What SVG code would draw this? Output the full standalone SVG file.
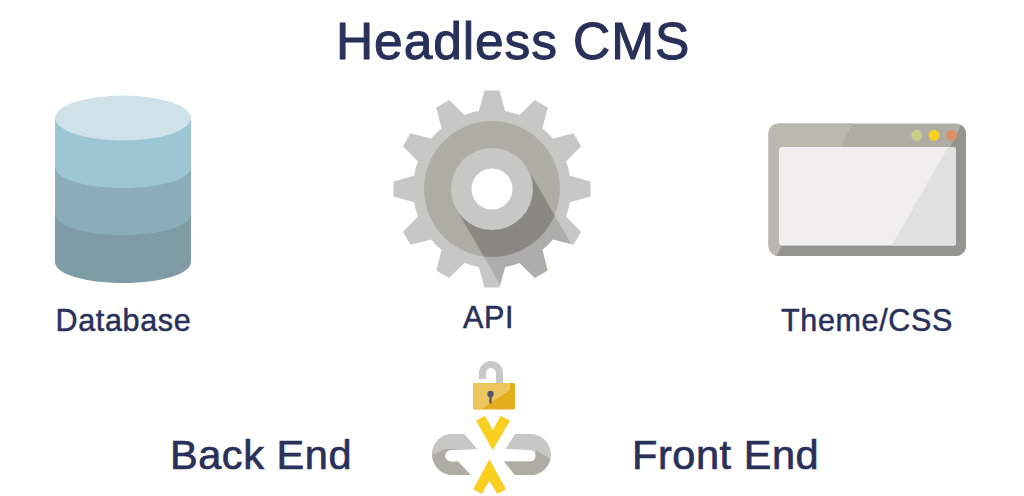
<svg xmlns="http://www.w3.org/2000/svg" width="1024" height="496" viewBox="0 0 1024 496">
<style>
text{font-family:"Liberation Sans",Arial,sans-serif;fill:#29305a;stroke:#29305a}
.t{font-size:51.500px;letter-spacing:.9px;stroke-width:1px}
.l{font-size:30.500px;letter-spacing:.65px;stroke-width:.5px}
.b{font-size:41.500px;letter-spacing:.55px;stroke-width:.7px}
.g{fill:#c7c8c3}.d{fill:#aeada5}.y{fill:#fbcf1f}
</style>
<defs>
<clipPath id="gearClip">
<circle cx="492" cy="189" r="79"/>
<polygon points="484.500,90.500 499.500,90.500 506,114 478,114"/>
<polygon points="484.500,90.500 499.500,90.500 506,114 478,114" transform="rotate(30 492 189)"/>
<polygon points="484.500,90.500 499.500,90.500 506,114 478,114" transform="rotate(60 492 189)"/>
<polygon points="484.500,90.500 499.500,90.500 506,114 478,114" transform="rotate(90 492 189)"/>
<polygon points="484.500,90.500 499.500,90.500 506,114 478,114" transform="rotate(120 492 189)"/>
<polygon points="484.500,90.500 499.500,90.500 506,114 478,114" transform="rotate(150 492 189)"/>
<polygon points="484.500,90.500 499.500,90.500 506,114 478,114" transform="rotate(180 492 189)"/>
<polygon points="484.500,90.500 499.500,90.500 506,114 478,114" transform="rotate(210 492 189)"/>
<polygon points="484.500,90.500 499.500,90.500 506,114 478,114" transform="rotate(240 492 189)"/>
<polygon points="484.500,90.500 499.500,90.500 506,114 478,114" transform="rotate(270 492 189)"/>
<polygon points="484.500,90.500 499.500,90.500 506,114 478,114" transform="rotate(300 492 189)"/>
<polygon points="484.500,90.500 499.500,90.500 506,114 478,114" transform="rotate(330 492 189)"/>
</clipPath>
<clipPath id="discClip"><circle cx="492" cy="189" r="68"/></clipPath>
<clipPath id="lockClip"><rect x="473" y="383" width="42" height="26.500" rx="2"/></clipPath>
<clipPath id="winClip"><rect x="768.500" y="123.500" width="197.500" height="132.500" rx="10"/></clipPath>
<clipPath id="leftLink"><path d="M464 434H452.500A20.500 20.500 0 0 0 452.500 475H471L458 461.500H451A5.750 5.750 0 0 1 451 450L477 449Z"/></clipPath>
<clipPath id="rightLink"><path d="M515 434H530.500A20.500 20.500 0 0 1 530.500 475H515L504 461.500H530A5.750 5.750 0 0 0 530 450L505.500 449Z"/></clipPath>
</defs>

<text class="t" x="336" y="58.500">Headless CMS</text>

<g id="database">
<path d="M55 118V262C55 274 85 283 123 283S191 274 191 262V118Z" fill="#7f9ba6"/>
<path d="M55 118V214C55 226 85 235 123 235S191 226 191 214V118Z" fill="#8badb9"/>
<path d="M55 118V167C55 179 85 188 123 188S191 179 191 167V118Z" fill="#9dc6d4"/>
<ellipse cx="123" cy="118" rx="68" ry="22.500" fill="#cfe2e9"/>
<text class="l" x="55.500" y="331">Database</text>
</g>

<g id="api">
<g class="g" clip-path="url(#gearClip)"><rect x="390" y="88" width="204" height="204"/></g>
<circle cx="492" cy="189" r="68" class="d"/>
<polygon points="456.500,209.500 527.500,168.500 580,259 509,300" fill="#000" fill-opacity=".13" clip-path="url(#gearClip)"/>
<polygon points="456.500,209.500 527.500,168.500 580,259 509,300" fill="#000" fill-opacity=".09" clip-path="url(#discClip)"/>
<circle cx="492" cy="189" r="41" class="g"/>
<circle cx="492" cy="189" r="20.500" fill="#fff"/>
<text class="l" x="463" y="328">API</text>
</g>

<g id="theme">
<rect x="768.500" y="123.500" width="197.500" height="132.500" rx="10" class="d"/>
<g clip-path="url(#winClip)">
<polygon points="760,115 858,115 840,147 779,147 779,245.500 782,245.500 773,262 760,262" fill="#b9b9b2"/>
<polygon points="966,115 950,147 956,147 956,245.500 782,245.500 773,262 972,262 972,115" fill="#94958e"/>
</g>
<rect x="779" y="147" width="177" height="98.500" rx="3" fill="#f0efed"/>
<path d="M948 147H953a3 3 0 0 1 3 3V242.500a3 3 0 0 1-3 3H892Z" fill="#e0e0de"/>
<circle cx="916.700" cy="135.300" r="5.500" fill="#c3cf85"/>
<circle cx="934" cy="135.300" r="5.500" fill="#fbcf1f"/>
<circle cx="951.500" cy="135.300" r="5.500" fill="#dd9068"/>
<text class="l" x="781" y="331">Theme/CSS</text>
</g>

<g id="lock">
<path d="M482.500 379V373a8.500 8.500 0 0 1 17 0V384" fill="none" stroke="#c7c8c3" stroke-width="7"/>
<rect x="473" y="383" width="42" height="26.500" rx="2" fill="#e3ad1b"/>
<g clip-path="url(#lockClip)"><polygon points="473,383 510,383 510,390 480,410 473,410" fill="#edc65f"/></g>
<circle cx="490.500" cy="394" r="3.200" fill="#55566e"/>
<rect x="489.300" y="395" width="2.400" height="8.500" fill="#55566e"/>
</g>

<g id="link">
<g clip-path="url(#leftLink)"><rect x="430" y="430" width="50" height="50" class="d"/><path d="M430 430H480V449H445L432 455Z" class="g"/></g>
<g clip-path="url(#rightLink)"><rect x="500" y="430" width="55" height="50" class="g"/><path d="M500 461H534L536 450L552 460V480H500Z" class="d"/></g>
<polygon points="476,420.700 485,415.700 492.700,430 500.700,415.700 510,420.700 492.700,450" class="y"/>
<polygon points="489.300,459.300 506,489.300 497.300,494 489.300,480.700 481.700,494 473.300,489.300" class="y"/>
</g>

<text class="b" x="170" y="468.500">Back End</text>
<text class="b" x="632" y="468.500">Front End</text>
</svg>
